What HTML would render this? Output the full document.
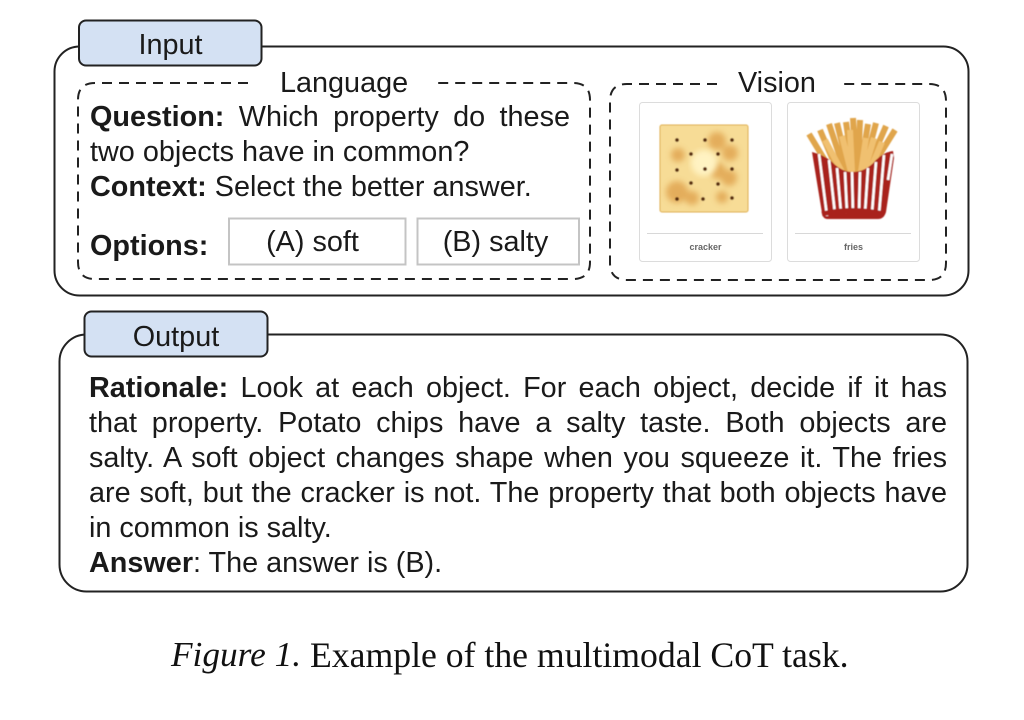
<!DOCTYPE html>
<html><head><meta charset="utf-8"><style>
html,body{margin:0;padding:0;background:#fff;width:1024px;height:720px;overflow:hidden}
.t{position:absolute;font:28.8px/35px "Liberation Sans",sans-serif;color:#1a1a1a;white-space:nowrap}
.j{text-align:justify;text-align-last:justify;white-space:normal}
.c{text-align:center;text-align-last:center}
b{font-weight:bold}
svg{position:absolute;left:0;top:0}
</style></head><body>
<svg width="1024" height="720" viewBox="0 0 1024 720" xmlns="http://www.w3.org/2000/svg">
<defs>
<filter id="bl"><feGaussianBlur stdDeviation="3"/></filter>
<filter id="b2"><feGaussianBlur stdDeviation="0.4"/></filter>
</defs>
<rect x="54.5" y="46.5" width="914" height="249" rx="25" fill="none" stroke="#222" stroke-width="2"/>
<rect x="79" y="20.5" width="182.5" height="45" rx="7" fill="#d4e1f3" stroke="#222" stroke-width="2"/>
<rect x="59.5" y="334.5" width="908" height="257" rx="27" fill="none" stroke="#222" stroke-width="2"/>
<rect x="84.5" y="311.5" width="183" height="45" rx="7" fill="#d4e1f3" stroke="#222" stroke-width="2"/>
<g fill="none" stroke="#222" stroke-width="2" stroke-dasharray="10 7">
<path d="M248 83H95Q78 83 78 100V262Q78 279 95 279H573Q590 279 590 262V100Q590 83 573 83H438"/>
<path d="M717 84H627Q610 84 610 101V263Q610 280 627 280H929Q946 280 946 263V101Q946 84 929 84H844"/>
</g>
<rect x="229" y="218.500" width="176.500" height="46" fill="#fff" stroke="#c4c4c4" stroke-width="2"/>
<rect x="417.500" y="218.500" width="161.500" height="46" fill="#fff" stroke="#c4c4c4" stroke-width="2"/>
<rect x="639.500" y="102.500" width="132" height="159" rx="3" fill="#fff" stroke="#dcdcdc"/>
<rect x="787.500" y="102.500" width="132" height="159" rx="3" fill="#fff" stroke="#dcdcdc"/>
<path d="M647 233.500H763M795 233.500H911" stroke="#d8d8d8"/>
<g filter="url(#b2)">
<rect x="660" y="125" width="88" height="87" rx="2" fill="#f7dc96" stroke="#e0ae4c"/>
<g filter="url(#bl)" fill="#dfa24e" opacity=".8">
<circle cx="717" cy="141" r="9"/><circle cx="730" cy="153" r="8"/><circle cx="678" cy="155" r="7"/>
<circle cx="718" cy="171" r="8"/><circle cx="729" cy="178" r="8"/><circle cx="677" cy="192" r="11"/>
<circle cx="692" cy="198" r="7"/><circle cx="722" cy="197" r="6"/>
</g>
<circle cx="704" cy="163" r="13" fill="#fff3c2" filter="url(#bl)"/>
<g fill="#5a2f10">
<circle cx="677" cy="140" r="1.900"/><circle cx="705" cy="140" r="1.900"/><circle cx="732" cy="140" r="1.900"/>
<circle cx="691" cy="154" r="1.900"/><circle cx="718" cy="154" r="1.900"/>
<circle cx="677" cy="170" r="1.900"/><circle cx="705" cy="169" r="1.900"/><circle cx="732" cy="169" r="1.900"/>
<circle cx="691" cy="183" r="1.900"/><circle cx="718" cy="184" r="1.900"/>
<circle cx="677" cy="199" r="1.900"/><circle cx="703" cy="199" r="1.900"/><circle cx="732" cy="198" r="1.900"/>
</g>
</g>
<g filter="url(#b2)">
<g stroke-width="6" stroke-linecap="butt" fill="none">
<path d="M809 134L832 172M820 130L838 172M829 124L845 172M837 123L849 172M846 122L853 172M853 118L856 172M860 120L858 172M868 124L860 172M876 123L863 172M886 126L866 172M895 130L870 170" stroke="#e0a54c"/>
<path d="M825 140L842 172M842 136L851 172M850 130L852 172M866 138L861 172M874 138L864 172M882 142L870 170" stroke="#f0c070"/>
</g>
<path d="M812 152Q824 155 832 162Q842 172 852 172Q866 172 876 160Q884 152 893 151L894 158L886 212Q884 219 878 219H827Q823 219 822 213Z" fill="#a9221c"/>
<path d="M819 154L827 216M829 160L835 214M837 168L841 213M845 172L847 213M852 172L853 213M860 172L859 213M868 168L865 213M876 162L872 213M884 155L879 214M892 154L888 180" stroke="#fff" stroke-width="2.600" fill="none"/>
<path d="M822 214Q852 207 884 214" stroke="#a9221c" stroke-width="5" fill="none"/>
</g>
</svg>
<div class="t c" style="left:79px;top:28px;width:183px">Input</div>
<div class="t c" style="left:84px;top:320px;width:184px">Output</div>
<div class="t" style="left:280px;top:66px">Language</div>
<div class="t" style="left:738px;top:66px">Vision</div>
<div class="t j" style="left:90px;top:100px;width:480px"><b>Question:</b> Which property do these</div>
<div class="t" style="left:90px;top:135px">two objects have in common?</div>
<div class="t" style="left:90px;top:170px"><b>Context:</b> Select the better answer.</div>
<div class="t" style="left:90px;top:229px"><b>Options:</b></div>
<div class="t c" style="left:229px;top:225px;width:167px">(A) soft</div>
<div class="t c" style="left:417px;top:225px;width:157px">(B) salty</div>
<div class="t c" style="left:639px;top:241px;width:133px;font:bold 9px/13px 'Liberation Sans',sans-serif;color:#666">cracker</div>
<div class="t c" style="left:787px;top:241px;width:133px;font:bold 9px/13px 'Liberation Sans',sans-serif;color:#666">fries</div>
<div class="t j" style="left:89px;top:371px;width:858px"><b>Rationale:</b> Look at each object. For each object, decide if it has</div>
<div class="t j" style="left:89px;top:406px;width:858px">that property. Potato chips have a salty taste. Both objects are</div>
<div class="t j" style="left:89px;top:441px;width:858px">salty. A soft object changes shape when you squeeze it. The fries</div>
<div class="t j" style="left:89px;top:476px;width:858px">are soft, but the cracker is not. The property that both objects have</div>
<div class="t" style="left:89px;top:511px">in common is salty.</div>
<div class="t" style="left:89px;top:546px"><b>Answer</b>: The answer is (B).</div>
<div class="t" style="left:171px;top:635px;font:35.3px/40px 'Liberation Serif',serif;color:#111"><i>Figure 1.</i></div>
<div class="t" style="left:310px;top:635px;font:35.7px/40px 'Liberation Serif',serif;color:#111">Example of the multimodal CoT task.</div>
</body></html>
